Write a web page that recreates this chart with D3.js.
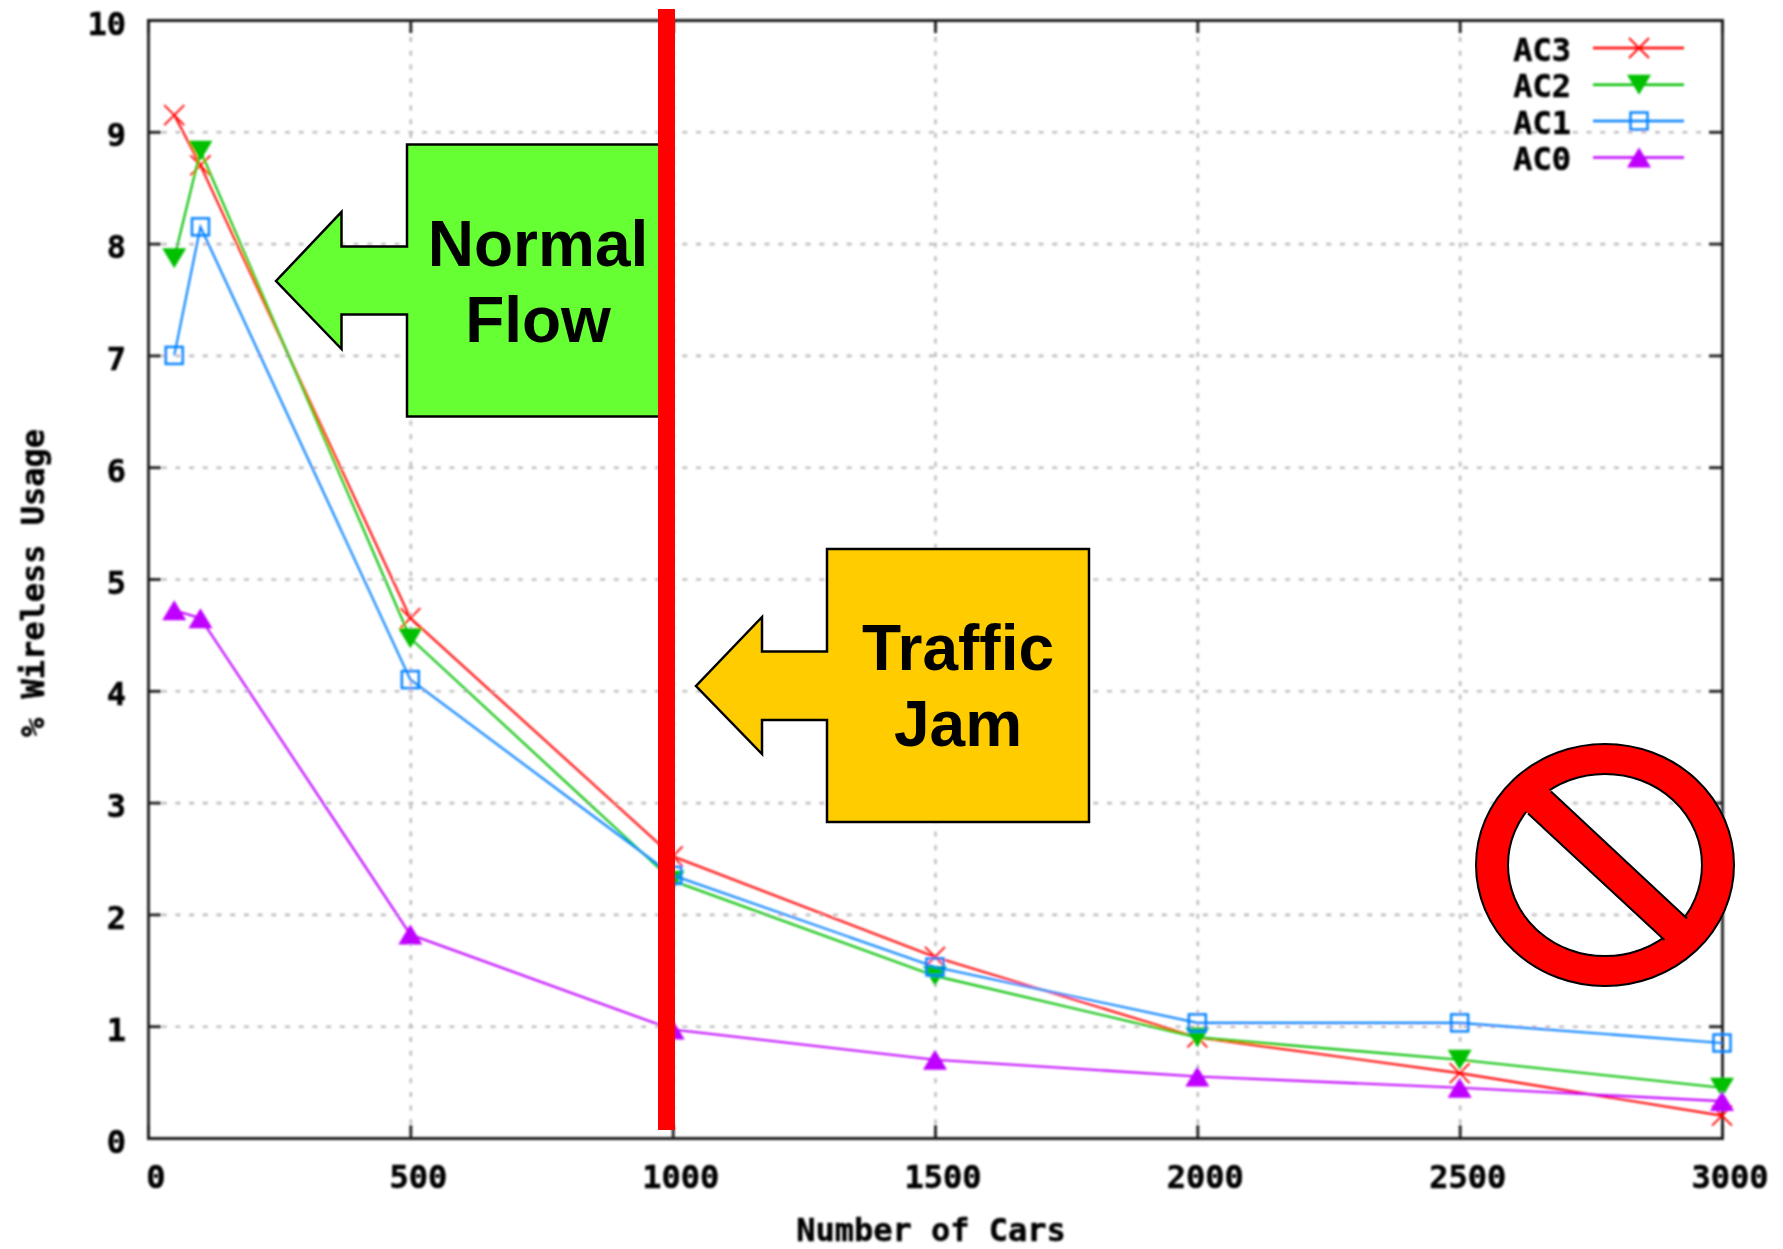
<!DOCTYPE html>
<html>
<head>
<meta charset="utf-8">
<title>Wireless usage</title>
<script src="https://cdn.jsdelivr.net/npm/d3@7"></script>
<style>
    body { margin: 0; background: #fff; }
    svg { display: block; }
    .label { font-family: "DejaVu Sans Mono", monospace; font-weight: bold; font-size: 32px; fill: #000; stroke: #000; stroke-width: 0.5px; }
    .callout { font-family: "Liberation Sans", Arial, sans-serif; font-weight: bold; font-size: 64px; fill: #000; text-anchor: middle; }
</style>
</head>
<body>
<svg id="chart" width="1783" height="1249"></svg>
<script>
const cars = [50, 100, 500, 1000, 1500, 2000, 2500, 3000];
const ac3 = [9.15, 8.7, 4.65, 2.52, 1.62, 0.9, 0.58, 0.2];
const ac2 = [7.87, 8.83, 4.47, 2.3, 1.45, 0.9, 0.7, 0.45];
const ac1 = [7.0, 8.15, 4.1, 2.35, 1.53, 1.03, 1.03, 0.85];
const ac0 = [4.72, 4.65, 1.82, 0.97, 0.7, 0.55, 0.45, 0.33];

const xTicks = [0, 500, 1000, 1500, 2000, 2500, 3000];
const yTicks = [0, 1, 2, 3, 4, 5, 6, 7, 8, 9, 10];

const seriesNames = ["AC3", "AC2", "AC1", "AC0"];
const seriesValues = [ac3, ac2, ac1, ac0];
const seriesColors = ["#ff0000", "#00c000", "#0080ff", "#c000ff"];

const svg = d3.select("#chart");
const plotLeft = 148, plotRight = 1722, plotTop = 20, plotBottom = 1138;

const x = d3.scaleLinear().domain([0, 3000]).range([plotLeft, plotRight]);
const y = d3.scaleLinear().domain([0, 10]).range([plotBottom, plotTop]);

const defs = svg.append("defs");
defs.append("filter").attr("id", "soft")
    .attr("x", "-5%").attr("y", "-5%").attr("width", "110%").attr("height", "110%")
    .append("feGaussianBlur").attr("stdDeviation", 0.8);

// the plot is a blurry screenshot in the original, the annotations are not
const plot = svg.append("g").attr("filter", "url(#soft)");

// grid
const gridX = plot.append("g").attr("transform", `translate(0,${plotBottom})`)
    .call(d3.axisBottom(x).tickValues(xTicks.slice(1, -1)).tickSize(-(plotBottom - plotTop)).tickFormat(""));
const gridY = plot.append("g").attr("transform", `translate(${plotLeft},0)`)
    .call(d3.axisLeft(y).tickValues(yTicks.slice(1, -1)).tickSize(-(plotRight - plotLeft)).tickFormat(""));
[gridX, gridY].forEach(g => {
    g.select(".domain").remove();
    g.selectAll("line").attr("stroke", "#c0c0c0").attr("stroke-width", 2.6).attr("stroke-dasharray", "5,8.7");
});

// ticks on all four sides
const tickLen = 13;
const axes = [
    plot.append("g").attr("transform", `translate(0,${plotBottom})`).call(d3.axisBottom(x).tickValues(xTicks).tickSize(-tickLen).tickFormat("")),
    plot.append("g").attr("transform", `translate(0,${plotTop})`).call(d3.axisTop(x).tickValues(xTicks).tickSize(-tickLen).tickFormat("")),
    plot.append("g").attr("transform", `translate(${plotLeft},0)`).call(d3.axisLeft(y).tickValues(yTicks).tickSize(-tickLen).tickFormat("")),
    plot.append("g").attr("transform", `translate(${plotRight},0)`).call(d3.axisRight(y).tickValues(yTicks).tickSize(-tickLen).tickFormat(""))
];
axes.forEach(g => {
    g.select(".domain").attr("stroke", "#1a1a1a").attr("stroke-width", 2.8);
    g.selectAll("line").attr("stroke", "#1a1a1a").attr("stroke-width", 2.8);
});

// tick labels
plot.selectAll(".xlab").data(xTicks).join("text")
    .attr("class", "label xlab")
    .attr("x", d => x(d) + 8)
    .attr("y", plotBottom + 50)
    .attr("text-anchor", "middle")
    .text(d => d);
plot.selectAll(".ylab").data(yTicks).join("text")
    .attr("class", "label ylab")
    .attr("x", plotLeft - 22)
    .attr("y", d => y(d) + 14.5)
    .attr("text-anchor", "end")
    .text(d => d);

plot.append("text").attr("class", "label")
    .attr("x", 931).attr("y", 1241)
    .attr("text-anchor", "middle")
    .text("Number of Cars");
plot.append("text").attr("class", "label")
    .attr("transform", "translate(44,583) rotate(-90)")
    .attr("text-anchor", "middle")
    .text("% Wireless Usage");

// markers, one per series
function marker(sel, i, color) {
    if (i === 0) {
        sel.append("path").attr("d", "M-10,-10L10,10M-10,10L10,-10")
            .attr("fill", "none").attr("stroke", color).attr("stroke-width", 1.8);
    } else if (i === 1) {
        sel.append("path").attr("d", "M-12,-10L12,-10L0,10Z").attr("fill", color);
    } else if (i === 2) {
        sel.append("rect").attr("x", -8.5).attr("y", -8.5).attr("width", 17).attr("height", 17)
            .attr("fill", "none").attr("stroke", color).attr("stroke-width", 2.4);
    } else {
        sel.append("path").attr("d", "M-12,10L12,10L0,-10Z").attr("fill", color);
    }
}

const line = d3.line().x((d, i) => x(cars[i])).y(d => y(d));

seriesValues.forEach((values, i) => {
    plot.append("path")
        .attr("d", line(values))
        .attr("fill", "none")
        .attr("stroke", seriesColors[i])
        .attr("stroke-width", 2.1);
    plot.selectAll(".m" + i).data(values).join("g")
        .attr("class", "m" + i)
        .attr("transform", (d, j) => `translate(${x(cars[j])},${y(d)})`)
        .each(function () { marker(d3.select(this), i, seriesColors[i]); });
});

// legend
const legendRows = [48, 84.7, 121, 157.5];
seriesNames.forEach((name, i) => {
    const row = legendRows[i];
    plot.append("text").attr("class", "label")
        .attr("x", 1571).attr("y", row + 12.5)
        .attr("text-anchor", "end")
        .text(name);
    plot.append("line")
        .attr("x1", 1593).attr("x2", 1684).attr("y1", row).attr("y2", row)
        .attr("stroke", seriesColors[i]).attr("stroke-width", 2.4);
    const g = plot.append("g").attr("transform", `translate(1639,${row})`);
    marker(g, i, seriesColors[i]);
});

// callouts
function callout(points, fill, lines, cx) {
    svg.append("path")
        .attr("d", "M" + points.join("L") + "Z")
        .attr("fill", fill).attr("stroke", "#000").attr("stroke-width", 2.5);
    lines.forEach(t => {
        svg.append("text").attr("class", "callout")
            .attr("x", cx).attr("y", t[1]).text(t[0]);
    });
}

callout([[660, 144.5], [407, 144.5], [407, 246.5], [341.5, 246.5], [341.5, 212], [276, 281], [341.5, 349],
    [341.5, 314.5], [407, 314.5], [407, 416.5], [660, 416.5]], "#66ff33", [["Normal", 266], ["Flow", 342]], 538);
callout([[1089, 549], [827, 549], [827, 651.5], [762, 651.5], [762, 617], [696, 686], [762, 754],
    [762, 720], [827, 720], [827, 822], [1089, 822]], "#ffcc00", [["Traffic", 670], ["Jam", 746]], 958);

// red divider
svg.append("rect").attr("x", 658).attr("y", 9).attr("width", 17).attr("height", 1121).attr("fill", "#ff0000");

// no-entry sign; the inside stays see-through so the grid shows
const signX = 1605, signY = 865, rxOuter = 129, ryOuter = 121, rxInner = 97, ryInner = 91;
const ellipse = (rx, ry) => `M${signX - rx},${signY}A${rx},${ry} 0 1,0 ${signX + rx},${signY}A${rx},${ry} 0 1,0 ${signX - rx},${signY}Z`;
svg.append("path")
    .attr("d", ellipse(rxOuter, ryOuter) + ellipse(rxInner, ryInner))
    .attr("fill", "#ff0000").attr("fill-rule", "evenodd")
    .attr("stroke", "#000").attr("stroke-width", 2);
svg.append("path")
    .attr("d", "M1545,786L1693,924L1670,946L1522,808Z")
    .attr("fill", "#ff0000");
svg.append("path")
    .attr("d", "M1551,791.5L1687,918.5M1528,813.5L1664.5,940")
    .attr("fill", "none").attr("stroke", "#000").attr("stroke-width", 2);
</script>
</body>
</html>
